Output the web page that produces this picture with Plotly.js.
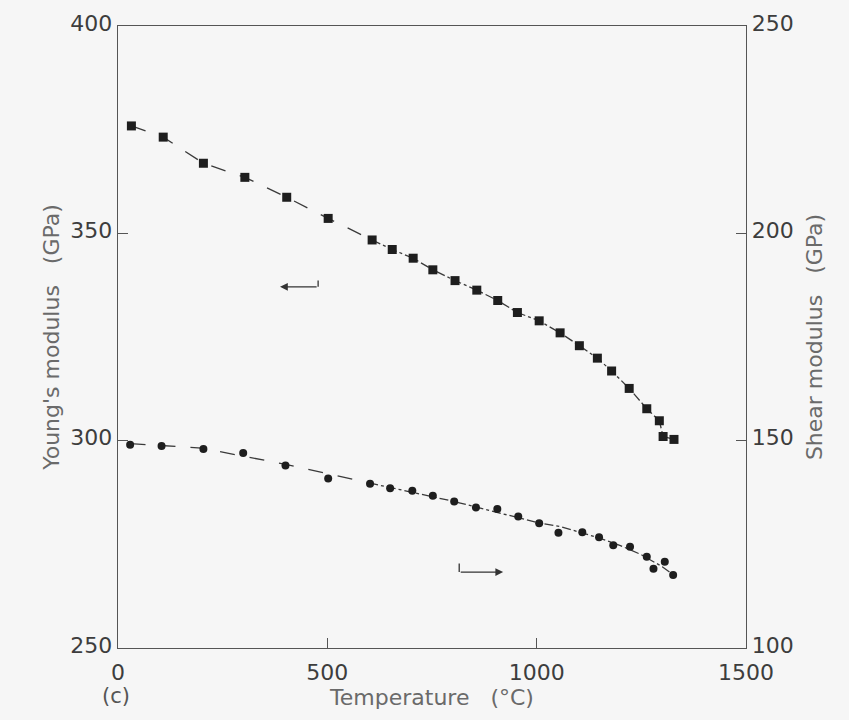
<!DOCTYPE html>
<html>
<head>
<meta charset="utf-8">
<script src="https://cdn.plot.ly/plotly-3.0.1.min.js"></script>
<style>html,body{margin:0;padding:0;background:#f6f6f6;}</style>
</head>
<body>
<div id="chart" style="width:849px;height:720px;"></div>
<script>
// Young's modulus (left axis, GPa)
const tempE = [32, 108, 204, 303, 403, 502, 607, 655, 705, 752, 805, 857, 907, 954, 1006, 1056, 1102, 1145, 1179, 1221, 1263, 1293, 1302, 1328];
const youngE = [375.9, 373.2, 366.9, 363.5, 358.7, 353.6, 348.4, 346.1, 344.0, 341.2, 338.6, 336.3, 333.8, 330.9, 328.9, 326.0, 322.9, 319.9, 316.8, 312.6, 307.7, 304.8, 301.0, 300.3];

// Shear modulus (right axis, GPa)
const tempG = [29, 104, 204, 299, 400, 502, 602, 650, 703, 752, 803, 855, 906, 956, 1006, 1052, 1109, 1149, 1183, 1223, 1263, 1279, 1306, 1326];
const shearG = [149.0, 148.7, 148.0, 147.0, 144.0, 140.9, 139.6, 138.5, 137.9, 136.7, 135.3, 133.9, 133.5, 131.7, 130.1, 127.8, 127.9, 126.7, 124.8, 124.4, 122.0, 119.1, 120.8, 117.6];

// Fitted curve for shear modulus
const fitTempG = [30, 200, 400, 600, 800, 1000, 1060, 1100, 1150, 1200, 1250, 1300, 1330];
const fitShearG = [149.3, 148.2, 144.3, 139.8, 135.4, 130.3, 129.2, 128.0, 126.5, 124.7, 122.5, 119.6, 117.4];

const xTicks = [0, 500, 1000, 1500];
const yTicks = [250, 300, 350, 400];
const y2Ticks = [100, 150, 200, 250];

const lineCol = '#3a3a3a';
const markCol = '#1e1e1e';
const split = 6;

const traces = [
  {x: tempE.slice(0, split + 1), y: youngE.slice(0, split + 1), mode: 'lines', line: {color: lineCol, width: 1.3, dash: 'longdash'}, yaxis: 'y', hoverinfo: 'skip'},
  {x: tempE.slice(split), y: youngE.slice(split), mode: 'lines', line: {color: lineCol, width: 1.3, dash: 'dashdot'}, yaxis: 'y', hoverinfo: 'skip'},
  {x: tempE, y: youngE, mode: 'markers', marker: {symbol: 'square', size: 9, color: markCol}, yaxis: 'y', name: "Young's modulus"},
  {x: fitTempG.slice(0, 4), y: fitShearG.slice(0, 4), mode: 'lines', line: {color: lineCol, width: 1.3, dash: 'longdash'}, yaxis: 'y2', hoverinfo: 'skip'},
  {x: fitTempG.slice(3), y: fitShearG.slice(3), mode: 'lines', line: {color: lineCol, width: 1.3, dash: 'dashdot'}, yaxis: 'y2', hoverinfo: 'skip'},
  {x: tempG, y: shearG, mode: 'markers', marker: {symbol: 'circle', size: 8, color: markCol}, yaxis: 'y2', name: 'Shear modulus'}
];

const tickFont = {family: 'DejaVu Sans, sans-serif', size: 22, color: '#3d3d3d'};
const titleFont = {family: 'DejaVu Sans, sans-serif', size: 22, color: '#6a6a6a'};
const axCol = '#555';

const layout = {
  width: 849, height: 720,
  margin: {l: 118, r: 103, t: 26, b: 72},
  paper_bgcolor: '#f6f6f6',
  plot_bgcolor: '#f6f6f6',
  showlegend: false,
  xaxis: {
    range: [0, 1500], tickvals: xTicks, ticks: 'inside', ticklen: 10, tickcolor: axCol,
    showline: true, linecolor: axCol, linewidth: 1.3, mirror: true, showgrid: false, zeroline: false,
    tickfont: tickFont, ticklabelstandoff: 4,
    title: {text: 'Temperature   (°C)', font: titleFont, standoff: 0}
  },
  yaxis: {
    range: [250, 400], tickvals: yTicks, ticks: 'inside', ticklen: 10, tickcolor: axCol,
    showline: true, linecolor: axCol, linewidth: 1.3, showgrid: false, zeroline: false,
    tickfont: tickFont, ticklabelshift: -3,
    title: {text: "Young's modulus   (GPa)", font: titleFont, standoff: 4}
  },
  yaxis2: {
    range: [100, 250], tickvals: y2Ticks, ticks: 'inside', ticklen: 10, tickcolor: axCol,
    overlaying: 'y', side: 'right',
    showline: true, linecolor: axCol, linewidth: 1.3, showgrid: false, zeroline: false,
    tickfont: tickFont, ticklabelshift: -3,
    title: {text: 'Shear modulus   (GPa)', font: titleFont, standoff: 14}
  },
  annotations: [
    {x: 387, y: 337.1, ax: 478, ay: 337.1, xref: 'x', yref: 'y', axref: 'x', ayref: 'y',
     showarrow: true, arrowhead: 2, arrowsize: 1.2, arrowwidth: 1.3, arrowcolor: '#333', text: ''},
    {x: 920, y: 268.3, ax: 815, ay: 268.3, xref: 'x', yref: 'y', axref: 'x', ayref: 'y',
     showarrow: true, arrowhead: 2, arrowsize: 1.2, arrowwidth: 1.3, arrowcolor: '#333', text: ''},
    {x: -0.003, y: -0.055, xref: 'paper', yref: 'paper', text: '(c)', showarrow: false,
     font: {family: 'DejaVu Sans, sans-serif', size: 21, color: '#555'}, yanchor: 'top', xanchor: 'center'}
  ],
  shapes: [
    {type: 'line', xref: 'x', yref: 'y', x0: 478, x1: 478, y0: 337.1, y1: 338.6, line: {color: '#333', width: 1.3}},
    {type: 'line', xref: 'x', yref: 'y', x0: 815, x1: 815, y0: 268.3, y1: 270.4, line: {color: '#333', width: 1.3}}
  ]
};

Plotly.newPlot('chart', traces, layout, {displayModeBar: false, staticPlot: true});
</script>
</body>
</html>
